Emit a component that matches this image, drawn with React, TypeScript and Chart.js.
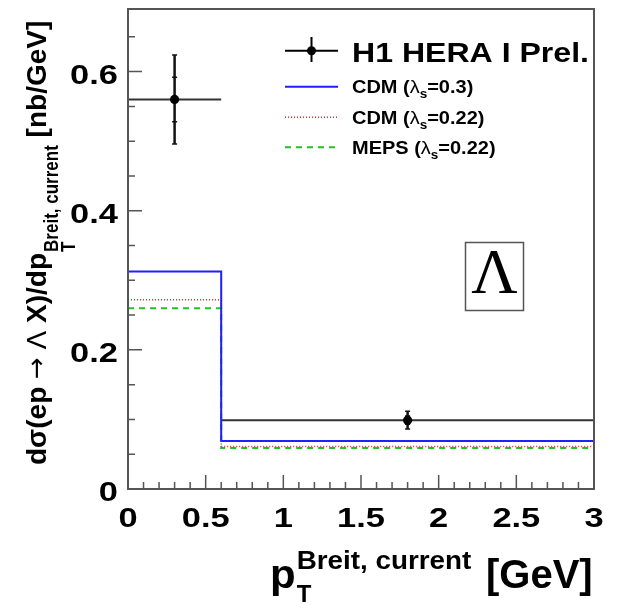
import { useEffect, useRef } from "react";
import { Chart, registerables } from "chart.js";

Chart.register(...registerables);

// pT bin edges (GeV) shared by the measurement and the model histograms
const binEdges = [0, 0.6, 3];

// model predictions per bin [nb/GeV]
const cdm03 = [0.3125, 0.069];
const cdm022 = [0.272, 0.061];
const meps022 = [0.26, 0.059];

// H1 measurement: bin centres, cross sections, statistical and total errors
const dataX = [0.3, 1.8];
const dataY = [0.56, 0.099];
const statErr = [0.032, 0.006];
const totalErr = [0.064, 0.0127];

// axis ticks
const xTickLabels = ["0", "0.5", "1", "1.5", "2", "2.5", "3"];
const yTickLabels = ["0", "0.2", "0.4", "0.6"];
const xMinorStep = 0.1;
const yMinorStep = 0.05;
const yMax = 0.69;

const SANS = '"Liberation Sans", Arial, Helvetica, sans-serif';
const SERIF = '"Liberation Serif", "Times New Roman", serif';
const bold = (px: number) => `bold ${px}px ${SANS}`;
const normal = (px: number) => `${px}px ${SANS}`;

const BLUE = "#1f1fff";
const RED = "#d83030";
const GREEN = "#1fc41f";
const FRAME = "#555555";

type Seg = { t: string; font: string; dy?: number };

// histogram outline: one point per bin edge, last value repeated at the upper edge
function histPoints(vals: number[]) {
  const pts = vals.map((v, i) => ({ x: binEdges[i], y: v }));
  pts.push({ x: binEdges[binEdges.length - 1], y: vals[vals.length - 1] });
  return pts;
}

// horizontal text run, stretched by sx
function drawRun(ctx: CanvasRenderingContext2D, segs: Seg[], x: number, y: number, sx: number) {
  let cx = x;
  for (const s of segs) {
    ctx.font = s.font;
    const w = ctx.measureText(s.t).width * sx;
    ctx.save();
    ctx.translate(cx, y + (s.dy || 0));
    ctx.scale(sx, 1);
    ctx.fillText(s.t, 0, 0);
    ctx.restore();
    cx += w;
  }
  return cx;
}

function textWidth(ctx: CanvasRenderingContext2D, t: string, font: string) {
  ctx.font = font;
  return ctx.measureText(t).width;
}

// text reading bottom-to-top; baseline at screen x = bx, starting at screen y = sy
function drawUp(ctx: CanvasRenderingContext2D, t: string, font: string, bx: number, sy: number, sx: number) {
  ctx.font = font;
  const w = ctx.measureText(t).width;
  ctx.save();
  ctx.translate(bx, sy);
  ctx.scale(sx, 1);
  ctx.rotate(-Math.PI / 2);
  ctx.fillText(t, 0, 0);
  ctx.restore();
  return sy - w;
}

function drawErrorBars(chart: Chart) {
  const ctx = chart.ctx;
  const xs = chart.scales.x;
  const ys = chart.scales.y;
  ctx.save();
  ctx.lineCap = "butt";
  for (let i = 0; i < dataX.length; i++) {
    const cx = xs.getPixelForValue(dataX[i]);
    const cy = ys.getPixelForValue(dataY[i]);
    const xl = xs.getPixelForValue(binEdges[i]);
    const xr = xs.getPixelForValue(binEdges[i + 1]);
    const yTop = ys.getPixelForValue(dataY[i] + totalErr[i]);
    const yBot = ys.getPixelForValue(dataY[i] - totalErr[i]);
    const sTop = ys.getPixelForValue(dataY[i] + statErr[i]);
    const sBot = ys.getPixelForValue(dataY[i] - statErr[i]);
    ctx.lineWidth = 2;
    ctx.strokeStyle = "#333";
    ctx.beginPath();
    ctx.moveTo(xl, cy);
    ctx.lineTo(xr, cy);
    ctx.stroke();
    ctx.strokeStyle = "#111";
    ctx.lineWidth = 2.5;
    ctx.beginPath();
    ctx.moveTo(cx, yTop);
    ctx.lineTo(cx, yBot);
    ctx.stroke();
    ctx.lineWidth = 1.5;
    ctx.beginPath();
    for (const yy of [yTop, yBot, sTop, sBot]) {
      ctx.moveTo(cx - 2.5, yy);
      ctx.lineTo(cx + 2.5, yy);
    }
    ctx.stroke();
  }
  ctx.restore();
}

function drawDecorations(chart: Chart) {
  const ctx = chart.ctx;
  const { left, right, top, bottom } = chart.chartArea;
  const xs = chart.scales.x;
  const ys = chart.scales.y;
  ctx.save();

  // frame
  ctx.strokeStyle = FRAME;
  ctx.lineWidth = 2;
  ctx.strokeRect(left, top, right - left, bottom - top);

  // inward ticks on the bottom and left axes
  ctx.lineWidth = 1.5;
  ctx.beginPath();
  const xMajors = xTickLabels.map(Number);
  const xMin = xs.min, xMaxV = xs.max;
  for (let k = 0; xMin + k * xMinorStep <= xMaxV + 1e-9; k++) {
    const v = xMin + k * xMinorStep;
    const isMajor = xMajors.some((m) => Math.abs(m - v) < 1e-6);
    const px = xs.getPixelForValue(v);
    ctx.moveTo(px, bottom);
    ctx.lineTo(px, bottom - (isMajor ? 14 : 7));
  }
  const yMajors = yTickLabels.map(Number);
  for (let k = 0; k * yMinorStep <= ys.max + 1e-9; k++) {
    const v = k * yMinorStep;
    const isMajor = yMajors.some((m) => Math.abs(m - v) < 1e-6);
    const py = ys.getPixelForValue(v);
    ctx.moveTo(left, py);
    ctx.lineTo(left + (isMajor ? 14 : 7), py);
  }
  ctx.stroke();

  // tick labels
  ctx.fillStyle = "#000";
  ctx.textBaseline = "alphabetic";
  const tickFont = bold(28);
  const tickSx = 1.23;
  for (const lab of xTickLabels) {
    const px = xs.getPixelForValue(Number(lab));
    const w = textWidth(ctx, lab, tickFont) * tickSx;
    drawRun(ctx, [{ t: lab, font: tickFont }], px - w / 2, bottom + 38, tickSx);
  }
  for (const lab of yTickLabels) {
    const py = ys.getPixelForValue(Number(lab));
    const w = textWidth(ctx, lab, tickFont) * tickSx;
    drawRun(ctx, [{ t: lab, font: tickFont }], left - 10 - w, py + 12, tickSx);
  }

  // x-axis title
  const pEnd = drawRun(ctx, [{ t: "p", font: bold(40) }], 270, 588, 1.05);
  drawRun(ctx, [{ t: "T", font: bold(24) }], pEnd + 1, 602, 1.0);
  drawRun(ctx, [{ t: "Breit, current", font: bold(26) }], pEnd + 1, 569, 1.07);
  drawRun(ctx, [{ t: "[GeV]", font: bold(40) }], 486, 588, 1.0);

  // y-axis title
  let cy = 465;
  const mainB = 46;
  cy = drawUp(ctx, "d\u03c3(ep ", bold(28), mainB, cy, 1.0);
  cy = drawUp(ctx, "\u2192", '26px "DejaVu Sans", sans-serif', mainB - 1, cy, 1.0);
  cy = drawUp(ctx, " ", bold(28), mainB, cy, 1.0);
  cy = drawUp(ctx, "\u039b", normal(28), mainB, cy, 1.0);
  cy = drawUp(ctx, " X)/dp", bold(28), mainB, cy, 1.0);
  const subEnd = drawUp(ctx, "T", bold(17), 75, cy - 1, 1.2);
  const supEnd = drawUp(ctx, "Breit, current", bold(17), 58, cy - 1, 1.2);
  drawUp(ctx, " [nb/GeV]", bold(28), mainB, Math.min(subEnd, supEnd), 1.0);

  // legend
  const lx0 = 285, lx1 = 338, tx = 352;
  ctx.strokeStyle = "#000";
  ctx.lineWidth = 2;
  ctx.beginPath();
  ctx.moveTo(lx0, 50.7);
  ctx.lineTo(lx1, 50.7);
  ctx.moveTo(311.5, 37);
  ctx.lineTo(311.5, 62);
  ctx.stroke();
  ctx.beginPath();
  ctx.arc(311.5, 50.7, 4.5, 0, Math.PI * 2);
  ctx.fill();
  drawRun(ctx, [{ t: "H1 HERA I Prel.", font: bold(28) }], tx, 61.5, 1.145);

  const rows: { color: string; dash: number[]; width: number; y: number; base: number; name: string; lam: string }[] = [
    { color: BLUE, dash: [], width: 2, y: 86.7, base: 93.3, name: "CDM", lam: "=0.3)" },
    { color: RED, dash: [1, 2], width: 1.5, y: 117.3, base: 124, name: "CDM", lam: "=0.22)" },
    { color: GREEN, dash: [6, 5], width: 2, y: 147.3, base: 154, name: "MEPS", lam: "=0.22)" },
  ];
  for (const r of rows) {
    ctx.save();
    ctx.strokeStyle = r.color;
    ctx.lineWidth = r.width;
    ctx.setLineDash(r.dash);
    ctx.beginPath();
    ctx.moveTo(lx0, r.y);
    ctx.lineTo(lx1, r.y);
    ctx.stroke();
    ctx.restore();
    drawRun(
      ctx,
      [
        { t: r.name + " (", font: bold(18.5) },
        { t: "\u03bb", font: normal(18.5) },
        { t: "s", font: bold(12.5), dy: 5 },
        { t: r.lam, font: bold(18.5) },
      ],
      tx,
      r.base,
      1.08
    );
  }

  // particle label box
  ctx.fillStyle = "#fff";
  ctx.fillRect(465.5, 242.5, 58, 68);
  ctx.strokeStyle = FRAME;
  ctx.lineWidth = 1.5;
  ctx.strokeRect(465.5, 242.5, 58, 68);
  ctx.fillStyle = "#000";
  ctx.font = `64px ${SERIF}`;
  ctx.textAlign = "center";
  ctx.fillText("\u039b", 494.5, 292.5);

  ctx.restore();
}

export default function App() {
  const ref = useRef<HTMLCanvasElement | null>(null);

  useEffect(() => {
    if (!ref.current) return;
    const chart = new Chart(ref.current, {
      type: "line",
      data: {
        datasets: [
          {
            type: "scatter",
            label: "H1 HERA I Prel.",
            data: dataX.map((x, i) => ({ x, y: dataY[i] })),
            pointRadius: 4.6,
            pointBackgroundColor: "#000",
            pointBorderWidth: 0,
            showLine: false,
          },
          {
            label: "CDM 0.3",
            data: histPoints(cdm03),
            stepped: "before",
            borderColor: BLUE,
            borderWidth: 2,
            pointRadius: 0,
            fill: false,
          },
          {
            label: "CDM 0.22",
            data: histPoints(cdm022),
            stepped: "before",
            borderColor: RED,
            borderWidth: 1.5,
            borderDash: [1, 2],
            pointRadius: 0,
            fill: false,
          },
          {
            label: "MEPS 0.22",
            data: histPoints(meps022),
            stepped: "before",
            borderColor: GREEN,
            borderWidth: 2,
            borderDash: [6, 5],
            pointRadius: 0,
            fill: false,
          },
        ],
      },
      options: {
        responsive: false,
        animation: false,
        layout: { padding: { left: 128, right: 31, top: 9, bottom: 124 } },
        plugins: { legend: { display: false }, tooltip: { enabled: false } },
        scales: {
          x: { type: "linear", min: 0, max: 3, display: false },
          y: { type: "linear", min: 0, max: yMax, display: false },
        },
      },
      plugins: [
        {
          id: "background",
          beforeDraw(c: Chart) {
            const ctx = c.ctx;
            ctx.save();
            ctx.fillStyle = "#fff";
            ctx.fillRect(0, 0, c.width, c.height);
            ctx.restore();
          },
        },
        {
          id: "errorBars",
          beforeDatasetsDraw(c: Chart) {
            drawErrorBars(c);
          },
        },
        {
          id: "decorations",
          afterDraw(c: Chart) {
            drawDecorations(c);
          },
        },
      ],
    });
    return () => chart.destroy();
  }, []);

  return (
    <div style={{ position: "fixed", left: 0, top: 0, width: 625, height: 613, background: "#fff" }}>
      <canvas ref={ref} width={625} height={613} style={{ width: 625, height: 613, display: "block" }} />
    </div>
  );
}
